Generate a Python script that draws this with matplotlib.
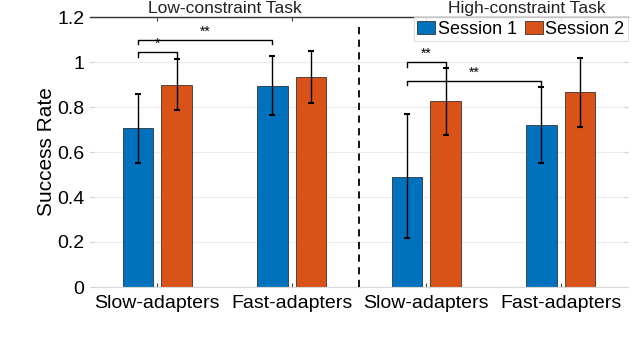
import numpy as np
import matplotlib.pyplot as plt

plt.rcParams['font.family'] = ['Liberation Sans', 'DejaVu Sans']

groups = ["Slow-adapters", "Fast-adapters", "Slow-adapters", "Fast-adapters"]
series = ["Session 1", "Session 2"]
session1 = [0.705, 0.895, 0.49, 0.72]
session2 = [0.90, 0.935, 0.825, 0.865]
err1_low = [0.55, 0.765, 0.22, 0.55]
err1_high = [0.86, 1.025, 0.77, 0.89]
err2_low = [0.785, 0.82, 0.675, 0.71]
err2_high = [1.015, 1.05, 0.975, 1.02]
task_titles = ["Low-constraint Task", "High-constraint Task"]
yticks = [0, 0.2, 0.4, 0.6, 0.8, 1.0, 1.2]
ytick_labels = ["0", "0.2", "0.4", "0.6", "0.8", "1", "1.2"]
# (group_a, series_a, group_b, series_b, height, label)
brackets = [(0, 0, 0, 1, 1.044, "*"),
            (0, 0, 1, 0, 1.098, "**"),
            (2, 0, 2, 1, 1.0, "**"),
            (2, 0, 3, 0, 0.916, "**")]

blue = "#0072BD"
orange = "#D95319"

fig = plt.figure(figsize=(6.4, 3.44), dpi=100)
ax = fig.add_axes([90 / 640, 1 - 287 / 344, 538 / 640, 270 / 344])

x = np.arange(1, 5)
w = 0.225
off = 0.144
xb = x - off
xo = x + off
ax.bar(xb, session1, w, color=blue, edgecolor="#1a1a1a", lw=0.5, label=series[0], zorder=2)
ax.bar(xo, session2, w, color=orange, edgecolor="#1a1a1a", lw=0.5, label=series[1], zorder=2)

s1 = np.array(session1)
s2 = np.array(session2)
ax.errorbar(xb, s1, yerr=[s1 - np.array(err1_low), np.array(err1_high) - s1],
            fmt="none", ecolor="black", elinewidth=1, capsize=2, capthick=1.5, zorder=3)
ax.errorbar(xo, s2, yerr=[s2 - np.array(err2_low), np.array(err2_high) - s2],
            fmt="none", ecolor="black", elinewidth=1, capsize=2, capthick=1.5, zorder=3)

# significance brackets
pos = [xb, xo]
for ga, sa, gb, sb, h, lab in brackets:
    xa = pos[sa][ga]
    xz = pos[sb][gb]
    ax.plot([xa, xa, xz, xz], [h - 0.02, h, h, h - 0.02], color="black", lw=1, zorder=4)
    ax.text((xa + xz) / 2, h + 0.004, lab, ha="center", va="bottom", fontsize=10)

# divider between tasks
ax.plot([2.5, 2.5], [0, 1.18], color="black", lw=1.3, ls=(0, (4, 3)), zorder=4)

ax.text(1.5, 1.205, task_titles[0], ha="center", va="bottom", fontsize=12.5, color="#222222")
ax.text(3.75, 1.205, task_titles[1], ha="center", va="bottom", fontsize=12.5, color="#222222")

ax.set_xlim(0.5, 4.5)
ax.set_ylim(0, 1.2)
ax.set_xticks(x)
ax.set_xticklabels(groups, fontsize=14)
ax.set_yticks(yticks)
ax.set_yticklabels(ytick_labels, fontsize=14)
ax.set_ylabel("Success Rate", fontsize=15, labelpad=1)
ax.grid(axis="y", color="#ebebeb", lw=0.8, zorder=0)
ax.set_axisbelow(True)

ax.tick_params(axis="x", direction="in", length=3, top=True, color="#444444", pad=6)
ax.tick_params(axis="y", direction="in", length=3, right=True, color="#d0d0d0", pad=4)
ax.spines["left"].set_visible(False)
ax.spines["right"].set_visible(False)
ax.spines["bottom"].set_color("#d8d8d8")
ax.spines["top"].set_color("#333333")
ax.spines["top"].set_linewidth(1.0)

leg = ax.legend(loc="upper right", ncol=2, fontsize=13, frameon=True, fancybox=False,
                borderaxespad=0, handlelength=1.0, handleheight=0.7, handletextpad=0.15,
                columnspacing=0.4, borderpad=0.2)
leg.get_frame().set_edgecolor("#d8d8d8")
leg.get_frame().set_linewidth(0.8)

fig.savefig("out.png", dpi=100)
